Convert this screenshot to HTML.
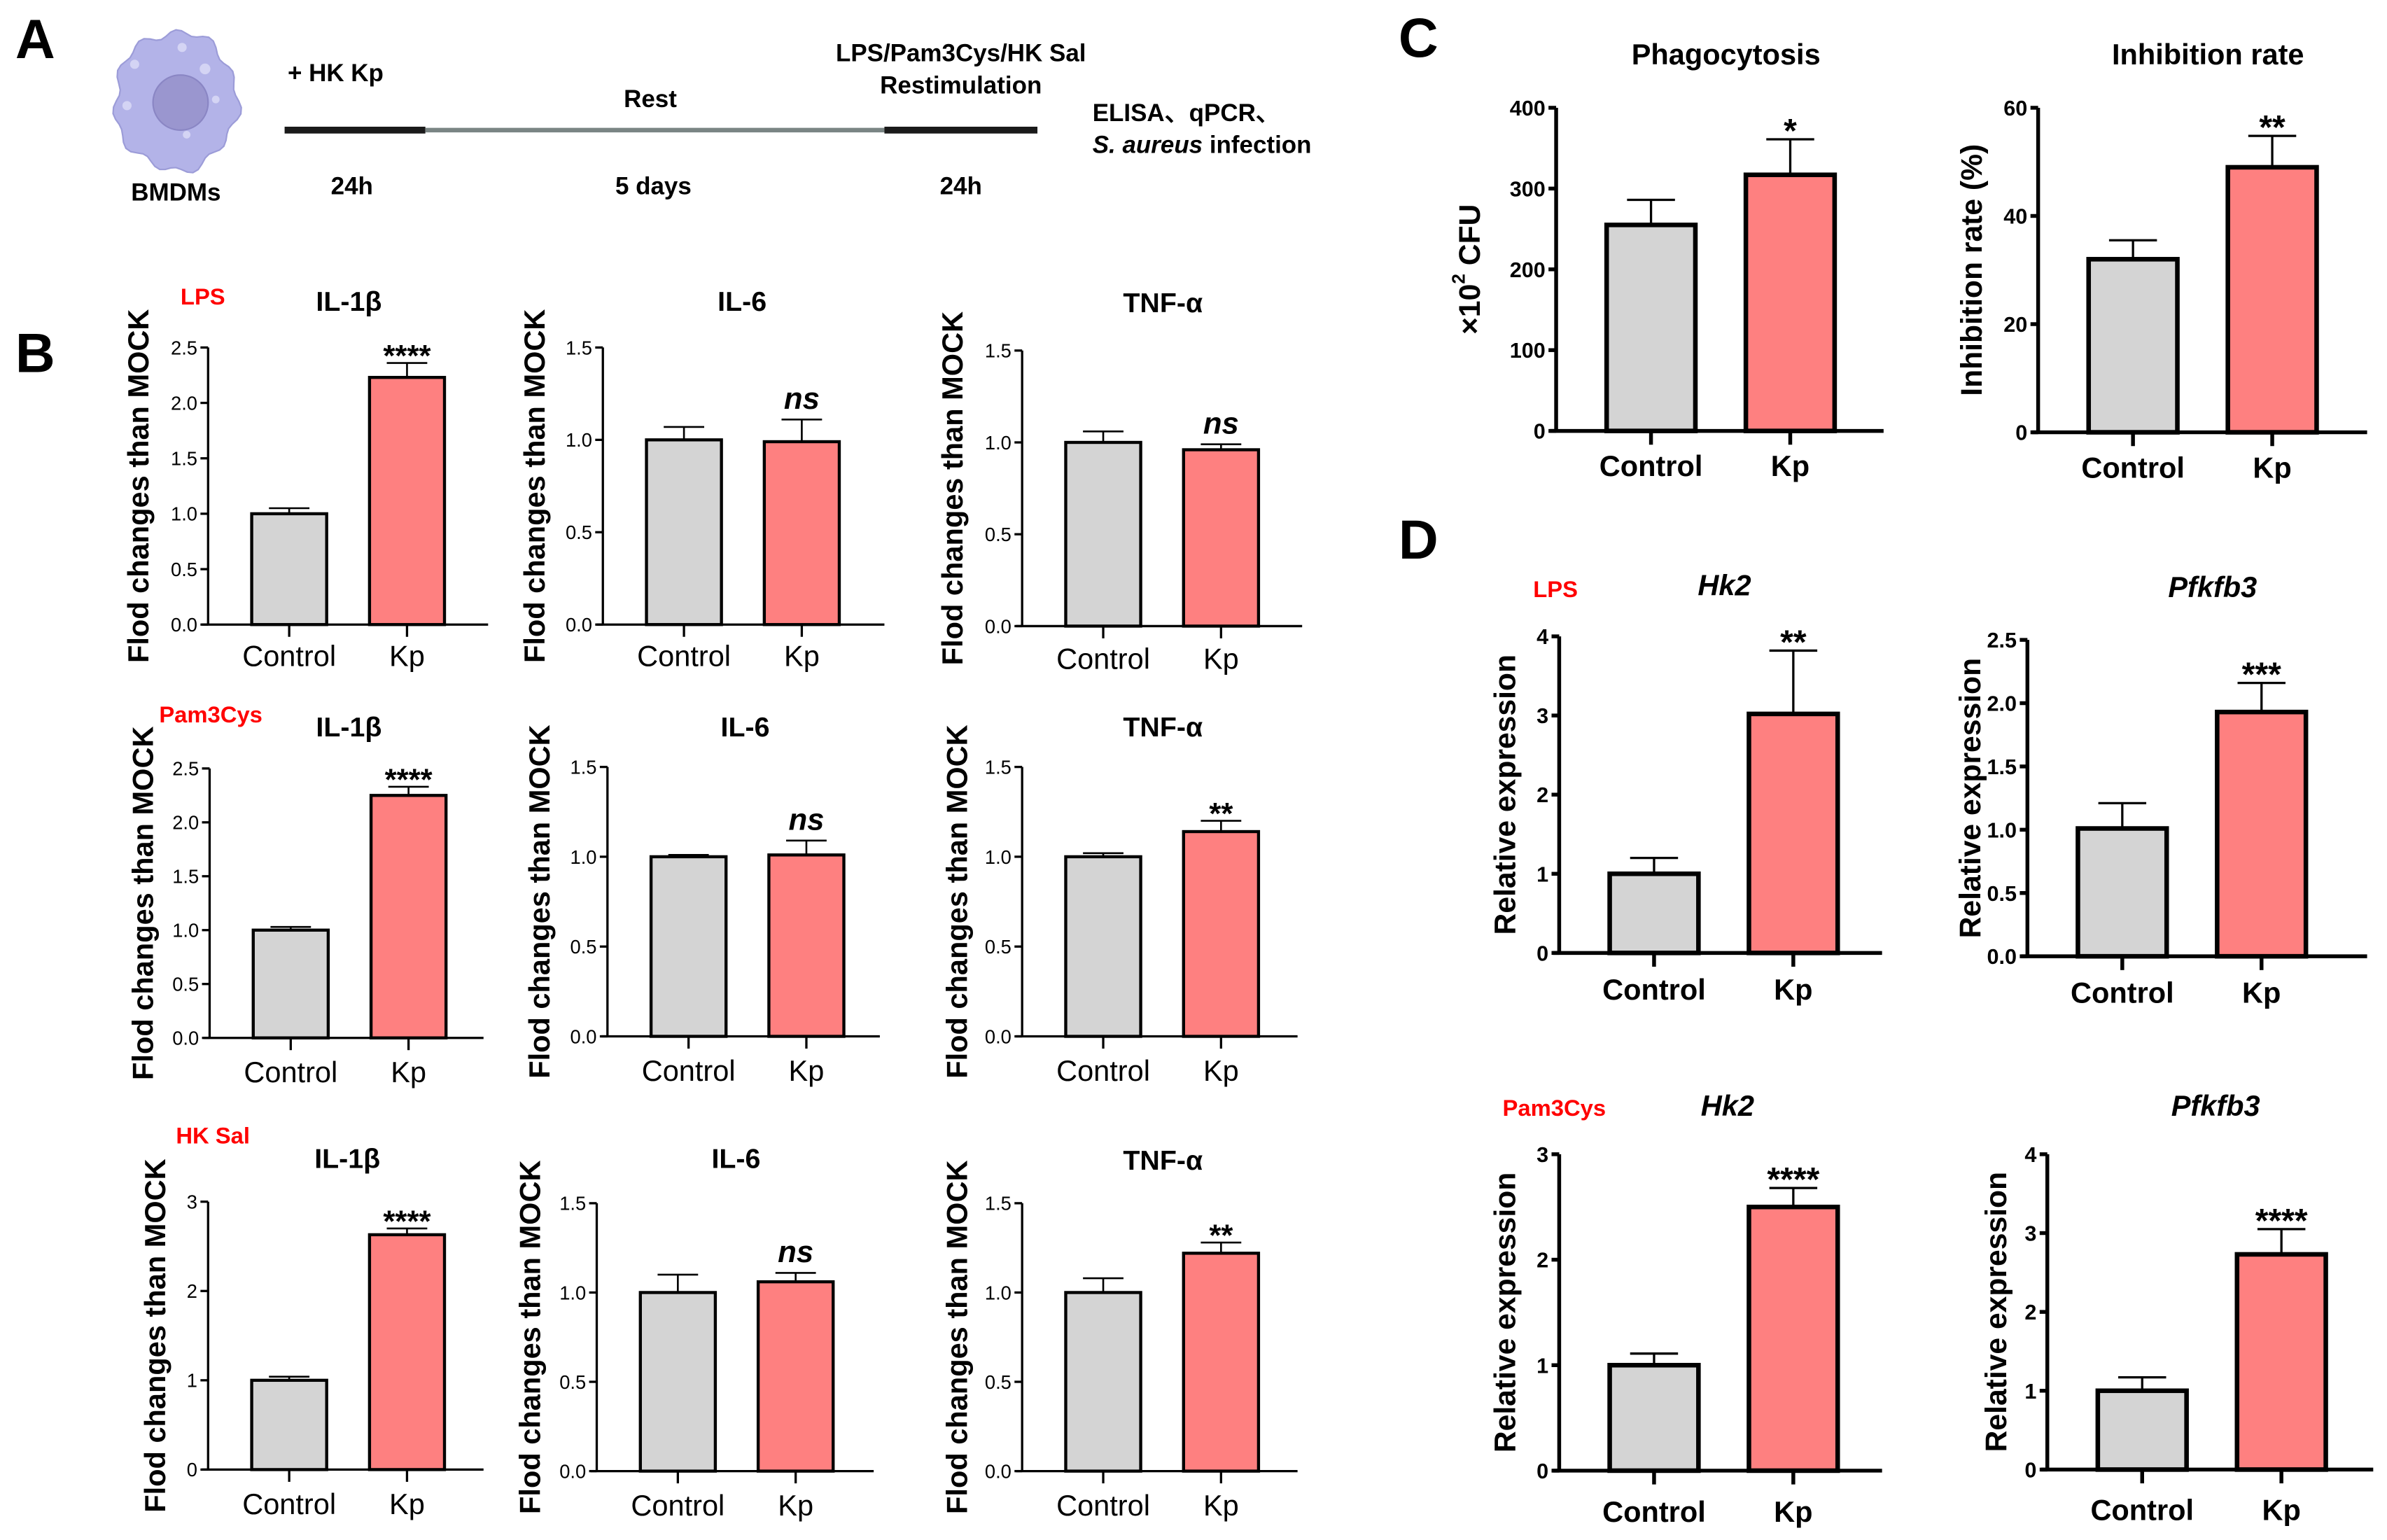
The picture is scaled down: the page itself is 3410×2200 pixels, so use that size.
<!DOCTYPE html>
<html><head><meta charset="utf-8">
<style>
html,body{margin:0;padding:0;background:#fff;}
svg{display:block;}
text{font-family:"Liberation Sans",sans-serif;}
</style></head>
<body>
<svg id="fig" xmlns="http://www.w3.org/2000/svg" width="3410" height="2200" viewBox="0 0 1560 1006" preserveAspectRatio="none">
  <g>
    <text x="10" y="38" font-size="36" font-weight="bold">A</text>
    <path id="cell" fill="#b3b3e8" stroke="#9c9cd8" stroke-width="1"/>
    <ellipse cx="118" cy="67" rx="18" ry="18" fill="#9a96cf" stroke="#8a86c4"/>
    <circle cx="88" cy="42" r="3" fill="#d4d4f4"/><circle cx="134" cy="45" r="3.5" fill="#d4d4f4"/>
    <circle cx="83" cy="69" r="3" fill="#d4d4f4"/><circle cx="122" cy="88" r="2.5" fill="#d4d4f4"/>
    <circle cx="119" cy="31" r="3" fill="#d4d4f4"/><circle cx="141" cy="65" r="2.5" fill="#d4d4f4"/>
    <text x="115" y="131" font-size="16" font-weight="bold" text-anchor="middle">BMDMs</text>
    <text x="188" y="53" font-size="16" font-weight="bold">+ HK Kp</text>
    <line x1="186" y1="85" x2="278" y2="85" stroke="#1a1a1a" stroke-width="4.5"/>
    <line x1="278" y1="85" x2="578" y2="85" stroke="#7a8584" stroke-width="3"/>
    <line x1="578" y1="85" x2="678" y2="85" stroke="#1a1a1a" stroke-width="4.5"/>
    <text x="425" y="70" font-size="16" font-weight="bold" text-anchor="middle">Rest</text>
    <text x="628" y="40" font-size="16" font-weight="bold" text-anchor="middle">LPS/Pam3Cys/HK Sal</text>
    <text x="628" y="61" font-size="16" font-weight="bold" text-anchor="middle">Restimulation</text>
    <text x="714" y="79" font-size="16" font-weight="bold">ELISA、qPCR、</text>
    <text x="714" y="100" font-size="16" font-weight="bold"><tspan font-style="italic">S. aureus</tspan> infection</text>
    <text x="230" y="127" font-size="16" font-weight="bold" text-anchor="middle">24h</text>
    <text x="427" y="127" font-size="16" font-weight="bold" text-anchor="middle">5 days</text>
    <text x="628" y="127" font-size="16" font-weight="bold" text-anchor="middle">24h</text>
  </g>
  <text x="10" y="243" font-size="36" font-weight="bold">B</text>
  <text x="914" y="37" font-size="36" font-weight="bold">C</text>
  <text x="914" y="365" font-size="36" font-weight="bold">D</text>
  <text x="118" y="199" font-size="15" font-weight="bold" fill="#f00">LPS</text>
  <text x="104" y="472" font-size="15" font-weight="bold" fill="#f00">Pam3Cys</text>
  <text x="115" y="747" font-size="15" font-weight="bold" fill="#f00">HK Sal</text>
  <text x="1002" y="390" font-size="15" font-weight="bold" fill="#f00">LPS</text>
  <text x="982" y="729" font-size="15" font-weight="bold" fill="#f00">Pam3Cys</text>
  <g id="charts"></g>
</svg>
<script>
const categories = ['Control', 'Kp'];
const lpsIl1bMean = [1.0, 2.23]; const lpsIl1bErr = [0.05, 0.13];
const lpsIl6Mean = [1.0, 0.99];  const lpsIl6Err = [0.07, 0.12];
const lpsTnfMean = [1.0, 0.96];  const lpsTnfErr = [0.06, 0.03];
const pamIl1bMean = [1.0, 2.25]; const pamIl1bErr = [0.03, 0.08];
const pamIl6Mean = [1.0, 1.01];  const pamIl6Err = [0.01, 0.08];
const pamTnfMean = [1.0, 1.14];  const pamTnfErr = [0.02, 0.06];
const salIl1bMean = [1.0, 2.63]; const salIl1bErr = [0.04, 0.07];
const salIl6Mean = [1.0, 1.06];  const salIl6Err = [0.10, 0.05];
const salTnfMean = [1.0, 1.22];  const salTnfErr = [0.08, 0.06];
const phagoMean = [255, 317]; const phagoErr = [31, 44];
const inhibMean = [32, 49];   const inhibErr = [3.5, 5.8];
const lpsHk2Mean = [1.0, 3.02];   const lpsHk2Err = [0.2, 0.8];
const lpsPfkMean = [1.01, 1.93];  const lpsPfkErr = [0.2, 0.23];
const pamHk2Mean = [1.0, 2.5];    const pamHk2Err = [0.11, 0.18];
const pamPfkMean = [1.0, 2.73];   const pamPfkErr = [0.17, 0.32];
const sigB = ['****','ns','ns','****','ns','**','****','ns','**'];
const sigCD = ['*','**','**','***','****','****'];
const ticks25 = [0, 0.5, 1.0, 1.5, 2.0, 2.5];
const ticks15 = [0, 0.5, 1.0, 1.5];
const ticks3 = [0, 1, 2, 3];
const ticks4 = [0, 1, 2, 3, 4];
const ticksPhago = [0, 100, 200, 300, 400];
const ticksInhib = [0, 20, 40, 60];

const NS = 'http://www.w3.org/2000/svg';
const root = document.getElementById('charts');
function mk(tag, attrs, parent) {
  const e = document.createElementNS(NS, tag);
  for (const k in attrs) e.setAttribute(k, attrs[k]);
  (parent || root).appendChild(e);
  return e;
}

(function(){
  let d = '';
  for (let i = 0; i <= 72; i++) {
    const a = i / 72 * Math.PI * 2;
    const r = 1 + 0.05 * Math.sin(a * 11) + 0.03 * Math.sin(a * 5 + 1);
    const x = 115 + 40 * r * Math.cos(a), y = 66 + 45 * r * Math.sin(a);
    d += (i ? 'L' : 'M') + x.toFixed(1) + ' ' + y.toFixed(1);
  }
  document.getElementById('cell').setAttribute('d', d + 'Z');
})();

function chart(c) {
  const B = c.style === 'B';
  const g = mk('g', {});
  
  
  const max = c.ticks[c.ticks.length - 1];
  const ys = v => c.y0 - v / max * (c.y0 - c.yTop);
  const off = B ? [53, 130] : [62, 153];
  const bw = B ? 49 : 58;
  const sw = B ? 2 : 3;
  const axw = B ? 1.5 : 2.5;
  const tickFs = B ? 12.5 : 14;
  categories.forEach((cat, i) => {
    const cx = c.x0 + off[i];
    const v = c.mean[i], e = c.err[i];
    const yt = ys(v + e);
    const el = mk('line', {x1: cx, x2: cx, y1: ys(v), y2: yt, stroke: '#000', 'stroke-width': B ? 1.2 : 1.5}, g);
    
    
    const cap = mk('line', {x1: cx - bw * 0.27, x2: cx + bw * 0.27, y1: yt, y2: yt, stroke: '#000', 'stroke-width': B ? 1.2 : 1.5}, g);
    
    
    const r = mk('rect', {x: cx - bw / 2, y: ys(v), width: bw, height: c.y0 - ys(v), fill: i ? '#fe8080' : '#d4d4d4', stroke: '#000', 'stroke-width': sw}, g);
    
    
    mk('line', {x1: cx, x2: cx, y1: c.y0, y2: c.y0 + (B ? 8 : 9), stroke: '#000', 'stroke-width': axw}, g);
    const t = mk('text', {x: cx, y: c.xlabY, 'font-size': 19, 'text-anchor': 'middle', 'font-weight': B ? 'normal' : 'bold'}, g);
    t.textContent = cat;
    
    
    if (i === 1) {
      const s = mk('text', {x: cx, y: yt - (c.sig === 'ns' ? 5 : -4) - 2, 'font-size': B ? 20 : 22, 'text-anchor': 'middle', 'font-weight': 'bold', 'font-style': c.sig === 'ns' ? 'italic' : 'normal'}, g);
      s.textContent = c.sig;
      
      
    }
  });
  const ya = mk('line', {x1: c.x0, x2: c.x0, y1: c.y0, y2: c.yTop, stroke: '#000', 'stroke-width': axw}, g);
  
  
  const xa = mk('line', {x1: c.x0 - 4, x2: c.xEnd, y1: c.y0, y2: c.y0, stroke: '#000', 'stroke-width': axw}, g);
  
  
  c.ticks.forEach(tv => {
    const y = ys(tv);
    mk('line', {x1: c.x0 - 5, x2: c.x0, y1: y, y2: y, stroke: '#000', 'stroke-width': axw}, g);
    const t = mk('text', {x: c.x0 - 7, y: y + tickFs * 0.36, 'font-size': tickFs, 'text-anchor': 'end', 'font-weight': B ? 'normal' : 'bold'}, g);
    t.textContent = c.dec ? tv.toFixed(1) : String(tv);
    
    
  });
  const tt = mk('text', {x: c.titleX || (c.x0 + 92), y: c.titleY, 'font-size': B ? 18 : 19, 'font-weight': 'bold', 'text-anchor': 'middle', 'font-style': c.italicTitle ? 'italic' : 'normal'}, g);
  tt.textContent = c.title;
  
  
  const cy = (c.y0 + c.yTop) / 2 + (c.ylOff || 0);
  const yl = mk('text', {x: c.ylx, y: cy, 'font-size': B ? 19 : 19.5, 'font-weight': 'bold', 'text-anchor': 'middle', transform: 'rotate(-90 ' + c.ylx + ' ' + cy + ')', 'dominant-baseline': 'middle'}, g);
  if (c.ylabelHtml) yl.innerHTML = c.ylabelHtml; else yl.textContent = c.ylabel;
  
  
}

const FL = 'Flod changes than MOCK';
chart({name:'chart-lps-il1b', style:'B', x0:136, y0:408, yTop:227, xEnd:319, ticks:ticks25, dec:true, mean:lpsIl1bMean, err:lpsIl1bErr, sig:sigB[0], title:'IL-1β', titleX:228, titleY:203, ylabel:FL, ylx:92, xlabY:435});
chart({name:'chart-lps-il6', style:'B', x0:394, y0:408, yTop:227, xEnd:578, ticks:ticks15, dec:true, mean:lpsIl6Mean, err:lpsIl6Err, sig:sigB[1], title:'IL-6', titleX:485, titleY:203, ylabel:FL, ylx:351, xlabY:435});
chart({name:'chart-lps-tnf', style:'B', x0:668, y0:409, yTop:229, xEnd:851, ticks:ticks15, dec:true, mean:lpsTnfMean, err:lpsTnfErr, sig:sigB[2], title:'TNF-α', titleX:760, titleY:204, ylabel:FL, ylx:624, xlabY:437});
chart({name:'chart-pam-il1b', style:'B', x0:137, y0:678, yTop:502, xEnd:316, ticks:ticks25, dec:true, mean:pamIl1bMean, err:pamIl1bErr, sig:sigB[3], title:'IL-1β', titleX:228, titleY:481, ylabel:FL, ylx:95, xlabY:707});
chart({name:'chart-pam-il6', style:'B', x0:397, y0:677, yTop:501, xEnd:575, ticks:ticks15, dec:true, mean:pamIl6Mean, err:pamIl6Err, sig:sigB[4], title:'IL-6', titleX:487, titleY:481, ylabel:FL, ylx:354, xlabY:706});
chart({name:'chart-pam-tnf', style:'B', x0:668, y0:677, yTop:501, xEnd:848, ticks:ticks15, dec:true, mean:pamTnfMean, err:pamTnfErr, sig:sigB[5], title:'TNF-α', titleX:760, titleY:481, ylabel:FL, ylx:627, xlabY:706});
chart({name:'chart-sal-il1b', style:'B', x0:136, y0:960, yTop:785, xEnd:316, ticks:ticks3, dec:false, mean:salIl1bMean, err:salIl1bErr, sig:sigB[6], title:'IL-1β', titleX:227, titleY:763, ylabel:FL, ylx:103, xlabY:989});
chart({name:'chart-sal-il6', style:'B', x0:390, y0:961, yTop:786, xEnd:571, ticks:ticks15, dec:true, mean:salIl6Mean, err:salIl6Err, sig:sigB[7], title:'IL-6', titleX:481, titleY:763, ylabel:FL, ylx:348, xlabY:990});
chart({name:'chart-sal-tnf', style:'B', x0:668, y0:961, yTop:786, xEnd:848, ticks:ticks15, dec:true, mean:salTnfMean, err:salTnfErr, sig:sigB[8], title:'TNF-α', titleX:760, titleY:764, ylabel:FL, ylx:627, xlabY:990});
chart({name:'chart-phagocytosis', style:'C', x0:1017, y0:281.5, yTop:70.4, xEnd:1231, ticks:ticksPhago, mean:phagoMean, err:phagoErr, sig:sigCD[0], title:'Phagocytosis', titleX:1128, titleY:42, ylabelHtml:'×10<tspan font-size="12" dy="-8">2</tspan><tspan dy="8"> CFU</tspan>', ylx:962, xlabY:311});
chart({name:'chart-inhibition-rate', style:'C', x0:1332, y0:282.4, yTop:70.4, xEnd:1547, ticks:ticksInhib, mean:inhibMean, err:inhibErr, sig:sigCD[1], title:'Inhibition rate', titleX:1443, titleY:42, ylabel:'Inhibition rate (%)', ylx:1290, xlabY:312});
chart({name:'chart-lps-hk2', style:'C', x0:1019, y0:622.5, yTop:415.7, xEnd:1230, ticks:ticks4, mean:lpsHk2Mean, err:lpsHk2Err, sig:sigCD[2], title:'Hk2', italicTitle:true, titleX:1127, titleY:389, ylabel:'Relative expression', ylx:985, xlabY:653});
chart({name:'chart-lps-pfkfb3', style:'C', x0:1325, y0:624.7, yTop:418, xEnd:1547, ticks:[0,0.5,1.0,1.5,2.0,2.5], dec:true, mean:lpsPfkMean, err:lpsPfkErr, sig:sigCD[3], title:'Pfkfb3', italicTitle:true, titleX:1446, titleY:390, ylabel:'Relative expression', ylx:1289, xlabY:655});
chart({name:'chart-pam-hk2', style:'C', x0:1019, y0:960.7, yTop:754, xEnd:1230, ticks:ticks3, mean:pamHk2Mean, err:pamHk2Err, sig:sigCD[4], title:'Hk2', italicTitle:true, titleX:1129, titleY:729, ylabel:'Relative expression', ylx:985, xlabY:994});
chart({name:'chart-pam-pfkfb3', style:'C', x0:1338, y0:960, yTop:754, xEnd:1551, ticks:ticks4, mean:pamPfkMean, err:pamPfkErr, sig:sigCD[5], title:'Pfkfb3', italicTitle:true, titleX:1448, titleY:729, ylabel:'Relative expression', ylx:1306, xlabY:993});
</script>
</body></html>
